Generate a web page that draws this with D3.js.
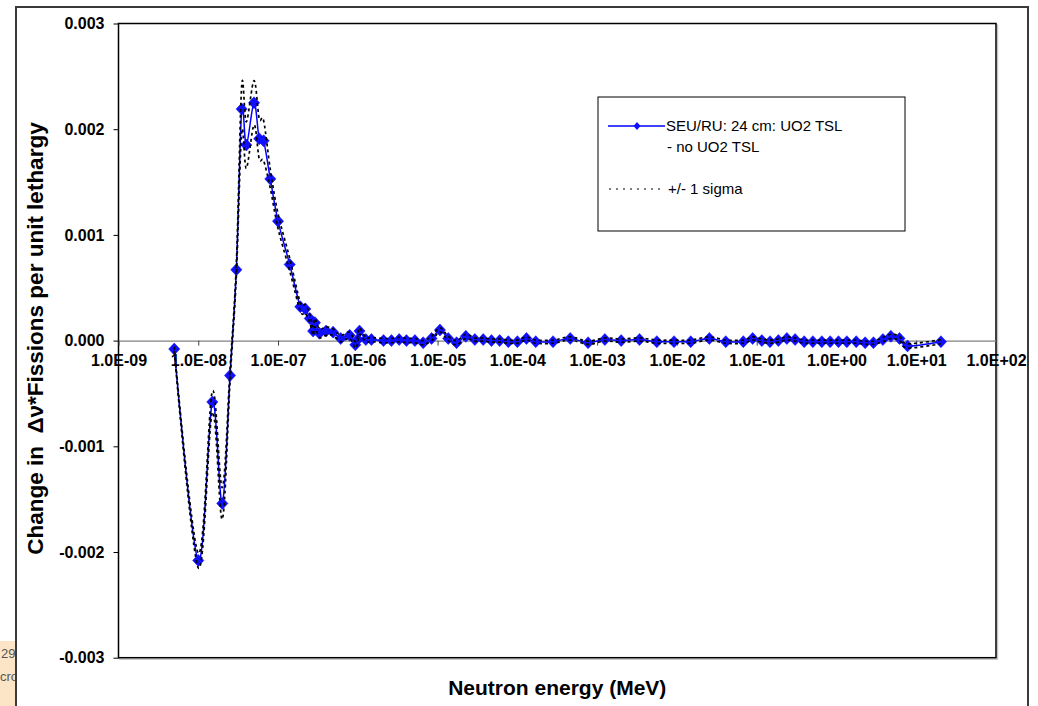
<!DOCTYPE html>
<html>
<head>
<meta charset="utf-8">
<script src="https://cdn.jsdelivr.net/npm/d3@7"></script>
<style>
  body { margin: 0; background: #fff; }
  svg { display: block; }
  text { font-family: "Liberation Sans", Arial, sans-serif; }
</style>
</head>
<body>
<svg id="chart" width="1038" height="706"></svg>
<script>
// Neutron energy grid (MeV)
const energyMeV = [
  5e-9, 1e-8, 1.5e-8, 2e-8, 2.5e-8, 3e-8, 3.5e-8, 4e-8, 5e-8, 5.8e-8,
  6.6e-8, 8e-8, 1e-7, 1.4e-7, 1.9e-7, 2.2e-7, 2.5e-7, 2.75e-7, 2.9e-7, 3.3e-7,
  4e-7, 4.9e-7, 6.1e-7, 7.9e-7, 9.3e-7, 1.0e-6, 1.05e-6, 1.26e-6, 1.48e-6, 2.1e-6,
  2.64e-6, 3.3e-6, 4.07e-6, 5.2e-6, 6.6e-6, 8.4e-6, 1.07e-5, 1.36e-5, 1.73e-5, 2.26e-5,
  2.93e-5, 3.73e-5, 4.74e-5, 6.0e-5, 7.7e-5, 1.0e-4, 1.3e-4, 1.7e-4, 2.8e-4, 4.6e-4,
  7.7e-4, 1.25e-3, 2.0e-3, 3.4e-3, 5.6e-3, 9.2e-3, 1.49e-2, 2.55e-2, 4.1e-2, 6.8e-2,
  8.9e-2, 0.116, 0.147, 0.187, 0.239, 0.303, 0.394, 0.506, 0.656, 0.834,
  1.06, 1.35, 1.77, 2.29, 2.91, 3.82, 4.81, 6.17, 7.78, 20.4
];

// Change in nu*fissions per unit lethargy (UO2 TSL minus no UO2 TSL)
const deltaFissions = [
  -0.00008, -0.00208, -0.00058, -0.00154, -0.00033, 0.00067, 0.00219, 0.00185, 0.00225, 0.00191,
  0.00189, 0.00153, 0.00113, 0.00072, 0.00032, 0.00030, 0.00021, 0.00009, 0.00017, 0.00007,
  0.00009, 0.00008, 0.00002, 0.00005, -0.00004, 0.00001, 0.00009, 0.00001, 0.00001, 0.00000,
  0.00000, 0.00001, 0.00000, 0.00000, -0.00002, 0.00002, 0.00010, 0.00002, -0.00002, 0.00004,
  0.00001, 0.00001, 0.00000, 0.00000, -0.00001, -0.00001, 0.00002, -0.00001, -0.00001, 0.00002,
  -0.00002, 0.00001, 0.00000, 0.00001, -0.00001, -0.00001, -0.00001, 0.00002, -0.00001, -0.00001,
  0.00002, 0.00000, -0.00001, 0.00000, 0.00002, 0.00001, -0.00001, -0.00001, -0.00001, -0.00001,
  -0.00001, -0.00001, -0.00001, -0.00002, -0.00002, 0.00001, 0.00004, 0.00002, -0.00005, -0.00001
];

// One standard deviation of the difference
const sigma = [
  0.00002, 0.00007, 0.00010, 0.00015, 0.00006, 0.00006, 0.00022, 0.00022, 0.00021, 0.00019,
  0.00019, 0.00009, 0.00007, 0.00006, 0.00004, 0.00004, 0.00004, 0.00004, 0.00004, 0.00004,
  0.00004, 0.00003, 0.00003, 0.00003, 0.00003, 0.00003, 0.00003, 0.00002, 0.00002, 0.00002,
  0.00002, 0.00002, 0.00002, 0.00002, 0.00002, 0.00002, 0.00002, 0.00002, 0.00002, 0.00002,
  0.000015, 0.000015, 0.000015, 0.000015, 0.000015, 0.000015, 0.000015, 0.000015, 0.000015, 0.000015,
  0.000015, 0.000015, 0.000015, 0.000015, 0.000015, 0.000015, 0.000015, 0.000015, 0.000015, 0.000015,
  0.000015, 0.000015, 0.000015, 0.000015, 0.000015, 0.000015, 0.000015, 0.000015, 0.000015, 0.000015,
  0.000015, 0.000015, 0.000015, 0.000015, 0.000015, 0.00002, 0.00002, 0.00002, 0.00002, 0.00002
];

const xTickValues = [1e-9, 1e-8, 1e-7, 1e-6, 1e-5, 1e-4, 1e-3, 1e-2, 1e-1, 1e0, 1e1, 1e2];
const xTickLabels = ["1.0E-09", "1.0E-08", "1.0E-07", "1.0E-06", "1.0E-05", "1.0E-04",
                     "1.0E-03", "1.0E-02", "1.0E-01", "1.0E+00", "1.0E+01", "1.0E+02"];
const yTickValues = [-0.003, -0.002, -0.001, 0, 0.001, 0.002, 0.003];
const yTickLabels = ["-0.003", "-0.002", "-0.001", "0.000", "0.001", "0.002", "0.003"];

const seriesLabel = ["SEU/RU: 24 cm: UO2 TSL", "- no UO2 TSL"];
const sigmaLabel = "+/- 1 sigma";

const svg = d3.select("#chart");
const plot = { left: 118.5, right: 996, top: 23.5, bottom: 657.7 };

const x = d3.scaleLog().domain([1e-9, 1e2]).range([plot.left, plot.right]);
const y = d3.scaleLinear().domain([-0.003, 0.003]).range([plot.bottom, plot.top]);

const points = energyMeV.map((e, i) => ({ e, v: deltaFissions[i], s: sigma[i] }));

// scrap of the neighbouring page at the lower left
svg.append("rect").attr("x", 0).attr("y", 641).attr("width", 16).attr("height", 65).attr("fill", "#fce4c6");
const scrap = svg.append("g").attr("fill", "#555").style("font-size", "13px");
scrap.append("text").attr("x", 1).attr("y", 658).text("29");
scrap.append("text").attr("x", 0).attr("y", 681).text("cro");

// chart frame
svg.append("rect").attr("x", 16).attr("y", 7).attr("width", 1012).attr("height", 720)
  .attr("fill", "#fff").attr("stroke", "#3a3a3a").attr("stroke-width", 2);

// plot area with a faint shadow
svg.append("rect").attr("x", plot.left + 1.5).attr("y", plot.top + 1.5)
  .attr("width", plot.right - plot.left).attr("height", plot.bottom - plot.top)
  .attr("fill", "none").attr("stroke", "#c8c8c8").attr("stroke-width", 1.5);
svg.append("rect").attr("x", plot.left).attr("y", plot.top)
  .attr("width", plot.right - plot.left).attr("height", plot.bottom - plot.top)
  .attr("fill", "#fff").attr("stroke", "#000").attr("stroke-width", 1.5);

// y axis
const yAxis = d3.axisLeft(y).tickValues(yTickValues)
  .tickFormat((d, i) => yTickLabels[i]).tickSize(5).tickSizeOuter(0).tickPadding(9);
const gy = svg.append("g").attr("transform", `translate(${plot.left},0)`).call(yAxis);
gy.select(".domain").remove();
gy.selectAll(".tick line").attr("stroke", "#000");
gy.selectAll(".tick text").attr("fill", "#000").style("font-size", "16px").style("font-weight", "bold")
  .style("font-family", "'Liberation Sans', Arial, sans-serif");

// x axis along the zero line
const xAxis = d3.axisBottom(x).tickValues(xTickValues)
  .tickFormat((d, i) => xTickLabels[i]).tickSize(5).tickSizeOuter(0).tickPadding(9);
const gx = svg.append("g").attr("transform", `translate(0,${y(0)})`).call(xAxis);
gx.select(".domain").attr("stroke", "#808080").attr("stroke-width", 1.2);
gx.selectAll(".tick line").attr("stroke", "#404040");
gx.selectAll(".tick text").attr("fill", "#000").style("font-size", "16px").style("font-weight", "bold")
  .style("font-family", "'Liberation Sans', Arial, sans-serif");

// axis titles
svg.append("text").attr("x", (plot.left + plot.right) / 2).attr("y", 695)
  .attr("text-anchor", "middle").style("font-size", "21px").style("font-weight", "bold")
  .text("Neutron energy (MeV)");
svg.append("text").attr("transform", `translate(43,${(plot.top + plot.bottom) / 2 - 2}) rotate(-90)`)
  .attr("text-anchor", "middle").style("font-size", "22.5px").style("font-weight", "bold")
  .text("Change in \u00a0\u0394\u03bd*Fissions per unit lethargy");

// series, drawn as smoothed curves
const curve = d3.curveCardinal.tension(0);
svg.append("path").datum(points)
  .attr("fill", "none").attr("stroke", "#0000ff").attr("stroke-width", 1.5)
  .attr("d", d3.line().curve(curve).x(d => x(d.e)).y(d => y(d.v)));

const diamond = "M0,-6L5.6,0L0,6L-5.6,0Z";
svg.append("g").selectAll("path").data(points).join("path")
  .attr("transform", d => `translate(${x(d.e)},${y(d.v)})`)
  .attr("d", diamond).attr("fill", "#1010ff").attr("stroke", "#0000ff").attr("stroke-width", 0.5);

// +/- 1 sigma bounds
[1, -1].forEach(sgn => {
  svg.append("path").datum(points)
    .attr("fill", "none").attr("stroke", "#000").attr("stroke-width", 1.7)
    .attr("stroke-dasharray", "3,3")
    .attr("d", d3.line().curve(curve).x(d => x(d.e)).y(d => y(d.v + sgn * d.s)));
});

// legend
const lg = svg.append("g");
lg.append("rect").attr("x", 598).attr("y", 97).attr("width", 307).attr("height", 134)
  .attr("fill", "#fff").attr("stroke", "#000").attr("stroke-width", 1);
lg.append("line").attr("x1", 608).attr("x2", 665).attr("y1", 126).attr("y2", 126)
  .attr("stroke", "#0000ff").attr("stroke-width", 1.5);
lg.append("path").attr("transform", "translate(637,126)").attr("d", "M0,-4L3.5,0L0,4L-3.5,0Z")
  .attr("fill", "#1010ff");
lg.append("text").attr("x", 666).attr("y", 131).style("font-size", "15px").text(seriesLabel[0]);
lg.append("text").attr("x", 667).attr("y", 152).style("font-size", "15px").text(seriesLabel[1]);
lg.append("line").attr("x1", 609).attr("x2", 664).attr("y1", 189).attr("y2", 189)
  .attr("stroke", "#000").attr("stroke-width", 1).attr("stroke-dasharray", "2,5");
lg.append("text").attr("x", 668).attr("y", 194).style("font-size", "15px").text(sigmaLabel);
</script>
</body>
</html>
